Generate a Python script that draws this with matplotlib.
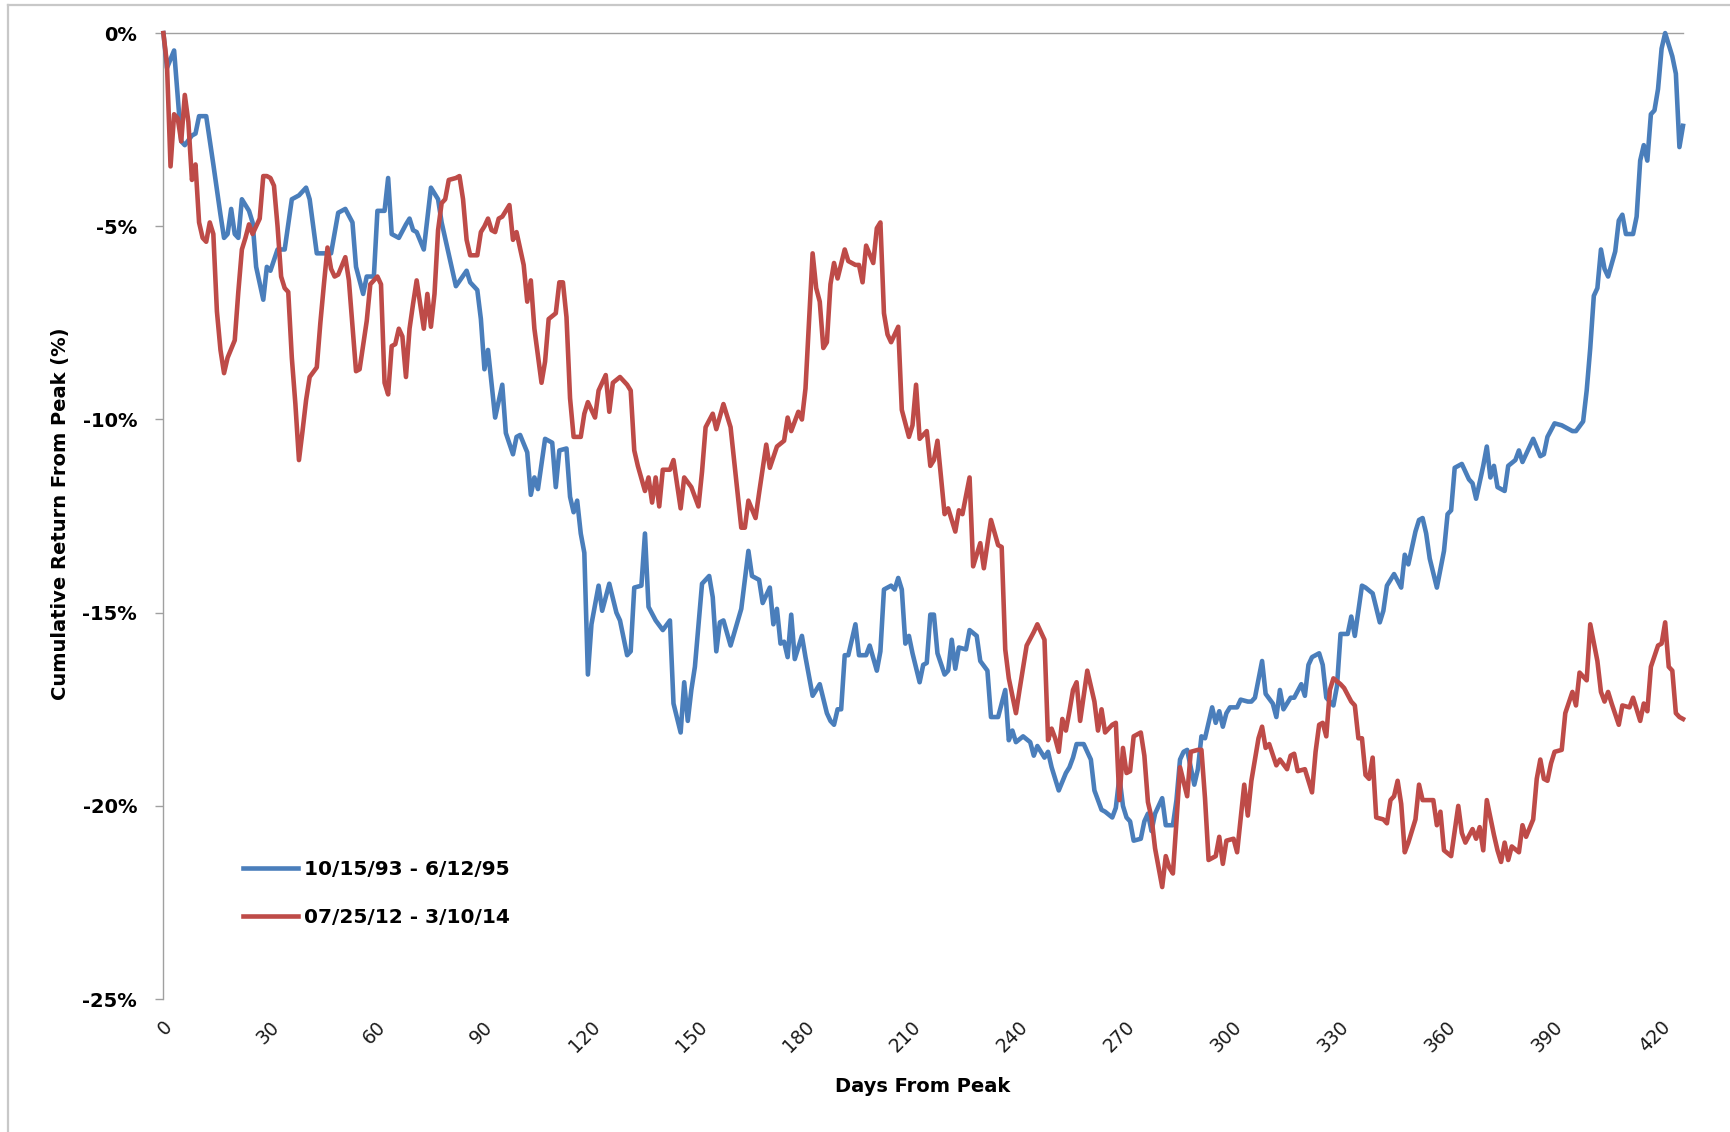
import matplotlib
matplotlib.use("Agg")
import matplotlib.pyplot as plt
from matplotlib.lines import Line2D
from matplotlib.ticker import FuncFormatter
from matplotlib.transforms import ScaledTranslation

# ---------------- data ----------------
series_labels = ["10/15/93 - 6/12/95", "07/25/12 - 3/10/14"]

blue_days = [
    0, 1, 3, 5, 6, 8, 9, 10, 12, 14,
    16, 17, 18, 19, 20, 21, 22, 24, 25, 26,
    28, 29, 30, 32, 34, 36, 38, 40, 41, 43,
    47, 49, 51, 53, 54, 56, 57, 59, 60, 62,
    63, 64, 66, 68, 69, 70, 71, 73, 75, 77,
    78, 82, 85, 86, 88, 89, 90, 91, 93, 95,
    96, 98, 99, 100, 102, 103, 104, 105, 107, 109,
    110, 111, 113, 114, 115, 116, 117, 118, 119, 120,
    122, 123, 125, 127, 128, 130, 131, 132, 134, 135,
    136, 138, 140, 142, 143, 145, 146, 147, 148, 149,
    151, 153, 154, 155, 156, 157, 159, 162, 164, 165,
    167, 168, 170, 171, 172, 173, 174, 175, 176, 177,
    179, 180, 182, 184, 186, 187, 188, 189, 190, 191,
    192, 194, 195, 197, 198, 200, 201, 202, 204, 205,
    206, 207, 208, 209, 210, 212, 213, 214, 215, 216,
    217, 219, 220, 221, 222, 223, 225, 226, 228, 229,
    231, 232, 234, 235, 236, 237, 238, 239, 241, 243,
    244, 245, 247, 248, 249, 251, 253, 254, 255, 256,
    258, 260, 261, 263, 264, 266, 267, 268, 269, 270,
    271, 272, 274, 275, 276, 277, 278, 280, 281, 283,
    284, 285, 286, 287, 289, 290, 291, 292, 294, 295,
    296, 297, 298, 299, 301, 302, 304, 305, 306, 308,
    309, 311, 312, 313, 314, 316, 317, 319, 320, 321,
    322, 324, 325, 326, 328, 329, 330, 332, 333, 334,
    336, 337, 339, 341, 342, 343, 345, 347, 348, 349,
    351, 352, 353, 354, 355, 357, 359, 360, 361, 362,
    364, 366, 367, 368, 370, 371, 372, 373, 374, 376,
    377, 379, 380, 381, 382, 384, 386, 387, 388, 390,
    392, 395, 396, 398, 399, 400, 401, 402, 403, 404,
    405, 407, 408, 409, 410, 412, 413, 414, 415, 416,
    417, 418, 419, 420, 421, 423, 424, 425, 426,
]
blue_vals = [
    0.0, -0.9, -0.45, -2.8, -2.9, -2.65, -2.6, -2.15, -2.15, -3.4,
    -4.7, -5.3, -5.2, -4.55, -5.2, -5.3, -4.3, -4.6, -4.9, -6.05,
    -6.9, -6.05, -6.15, -5.6, -5.6, -4.3, -4.2, -4.0, -4.3, -5.7,
    -5.7, -4.65, -4.55, -4.9, -6.05, -6.75, -6.3, -6.3, -4.6, -4.6,
    -3.75, -5.2, -5.3, -4.95, -4.8, -5.1, -5.15, -5.6, -4.0, -4.3,
    -4.9, -6.55, -6.15, -6.45, -6.65, -7.4, -8.7, -8.2, -9.95, -9.1,
    -10.35, -10.9, -10.45, -10.4, -10.85, -11.95, -11.5, -11.8, -10.5, -10.6,
    -11.75, -10.8, -10.75, -12.0, -12.4, -12.1, -12.95, -13.45, -16.6, -15.3,
    -14.3, -14.95, -14.25, -15.0, -15.2, -16.1, -16.0, -14.35, -14.3, -12.95,
    -14.85, -15.2, -15.45, -15.2, -17.35, -18.1, -16.8, -17.8, -17.0, -16.4,
    -14.25, -14.05, -14.6, -16.0, -15.25, -15.2, -15.85, -14.9, -13.4, -14.05,
    -14.15, -14.75, -14.35, -15.3, -14.9, -15.8, -15.75, -16.15, -15.05, -16.2,
    -15.6, -16.15, -17.15, -16.85, -17.6, -17.8, -17.9, -17.5, -17.5, -16.1,
    -16.1, -15.3, -16.1, -16.1, -15.85, -16.5, -16.0, -14.4, -14.3, -14.4,
    -14.1, -14.4, -15.8, -15.6, -16.05, -16.8, -16.35, -16.3, -15.05, -15.05,
    -16.05, -16.6, -16.5, -15.7, -16.45, -15.9, -15.95, -15.45, -15.6, -16.25,
    -16.5, -17.7, -17.7, -17.35, -17.0, -18.3, -18.05, -18.35, -18.2, -18.35,
    -18.7, -18.45, -18.75, -18.6, -19.0, -19.6, -19.15, -19.0, -18.75, -18.4,
    -18.4, -18.8, -19.6, -20.1, -20.15, -20.3, -20.05, -19.25, -20.0, -20.3,
    -20.4, -20.9, -20.85, -20.4, -20.2, -20.65, -20.2, -19.8, -20.5, -20.5,
    -19.85, -18.8, -18.6, -18.55, -19.45, -19.05, -18.2, -18.25, -17.45, -17.85,
    -17.55, -17.95, -17.6, -17.45, -17.45, -17.25, -17.3, -17.3, -17.2, -16.25,
    -17.1, -17.35, -17.7, -17.0, -17.5, -17.2, -17.2, -16.85, -17.15, -16.35,
    -16.15, -16.05, -16.35, -17.2, -17.4, -16.9, -15.55, -15.55, -15.1, -15.6,
    -14.3, -14.35, -14.5, -15.25, -14.95, -14.3, -14.0, -14.35, -13.5, -13.75,
    -12.9, -12.6, -12.55, -12.95, -13.6, -14.35, -13.4, -12.45, -12.35, -11.25,
    -11.15, -11.55, -11.65, -12.05, -11.2, -10.7, -11.5, -11.2, -11.75, -11.85,
    -11.2, -11.05, -10.8, -11.1, -10.9, -10.5, -10.95, -10.9, -10.45, -10.1,
    -10.15, -10.3, -10.3, -10.05, -9.25, -8.15, -6.8, -6.6, -5.6, -6.1,
    -6.3, -5.65, -4.85, -4.7, -5.2, -5.2, -4.75, -3.3, -2.9, -3.3,
    -2.1, -2.0, -1.45, -0.4, 0.0, -0.6, -1.05, -2.95, -2.4,
]

red_days = [
    0, 1, 2, 3, 4, 5, 6, 7, 8, 9,
    10, 11, 12, 13, 14, 15, 16, 17, 18, 20,
    21, 22, 23, 24, 25, 27, 28, 29, 30, 31,
    32, 33, 34, 35, 36, 37, 38, 39, 40, 41,
    43, 44, 45, 46, 47, 48, 49, 51, 52, 54,
    55, 57, 58, 60, 61, 62, 63, 64, 65, 66,
    67, 68, 69, 70, 71, 73, 74, 75, 76, 77,
    78, 79, 80, 82, 83, 84, 85, 86, 88, 89,
    90, 91, 92, 93, 94, 95, 97, 98, 99, 101,
    102, 103, 104, 106, 107, 108, 110, 111, 112, 113,
    114, 115, 117, 118, 119, 121, 122, 124, 125, 126,
    128, 130, 131, 132, 133, 135, 136, 137, 138, 139,
    140, 142, 143, 145, 146, 148, 150, 151, 152, 154,
    155, 157, 159, 162, 163, 164, 166, 167, 169, 170,
    172, 174, 175, 176, 178, 179, 180, 182, 183, 184,
    185, 186, 187, 188, 189, 191, 192, 194, 195, 196,
    197, 199, 200, 201, 202, 203, 204, 206, 207, 209,
    210, 211, 212, 214, 215, 216, 217, 219, 220, 222,
    223, 224, 226, 227, 229, 230, 232, 234, 235, 236,
    237, 239, 240, 242, 244, 245, 247, 248, 249, 250,
    251, 252, 253, 254, 255, 256, 257, 259, 261, 262,
    263, 264, 266, 267, 268, 269, 270, 271, 272, 274,
    275, 276, 277, 278, 280, 281, 282, 283, 284, 285,
    287, 288, 290, 291, 292, 293, 295, 296, 297, 298,
    300, 301, 303, 304, 305, 307, 308, 309, 310, 312,
    313, 315, 316, 317, 318, 320, 322, 323, 324, 325,
    326, 327, 328, 330, 331, 333, 334, 335, 336, 337,
    338, 339, 340, 342, 343, 344, 345, 346, 347, 348,
    349, 351, 352, 353, 356, 357, 358, 359, 361, 363,
    364, 365, 367, 368, 369, 370, 371, 373, 374, 375,
    376, 377, 378, 380, 381, 382, 384, 385, 386, 387,
    388, 389, 390, 392, 393, 395, 396, 397, 399, 400,
    402, 403, 404, 405, 406, 408, 409, 411, 412, 414,
    415, 416, 417, 419, 420, 421, 422, 423, 424, 425,
    426,
]
red_vals = [
    0.0, -0.8, -3.45, -2.1, -2.2, -2.8, -1.6, -2.3, -3.8, -3.4,
    -4.9, -5.3, -5.4, -4.9, -5.2, -7.2, -8.2, -8.8, -8.4, -7.95,
    -6.7, -5.6, -5.3, -4.95, -5.2, -4.8, -3.7, -3.7, -3.75, -3.95,
    -5.0, -6.3, -6.6, -6.7, -8.4, -9.6, -11.05, -10.3, -9.5, -8.9,
    -8.65, -7.5, -6.5, -5.55, -6.1, -6.3, -6.25, -5.8, -6.4, -8.75,
    -8.7, -7.45, -6.5, -6.3, -6.5, -9.05, -9.35, -8.1, -8.05, -7.65,
    -7.85, -8.9, -7.65, -7.0, -6.4, -7.65, -6.75, -7.6, -6.75, -5.1,
    -4.4, -4.3, -3.8, -3.75, -3.7, -4.3, -5.35, -5.75, -5.75, -5.15,
    -5.0, -4.8, -5.1, -5.15, -4.8, -4.75, -4.45, -5.35, -5.15, -6.0,
    -6.95, -6.4, -7.65, -9.05, -8.5, -7.4, -7.25, -6.45, -6.45, -7.35,
    -9.45, -10.45, -10.45, -9.85, -9.55, -9.95, -9.25, -8.85, -9.8, -9.05,
    -8.9, -9.1, -9.25, -10.8, -11.2, -11.85, -11.5, -12.15, -11.5, -12.25,
    -11.3, -11.3, -11.05, -12.3, -11.5, -11.75, -12.25, -11.35, -10.2, -9.85,
    -10.25, -9.6, -10.2, -12.8, -12.8, -12.1, -12.55, -11.9, -10.65, -11.25,
    -10.7, -10.55, -9.95, -10.3, -9.8, -10.0, -9.2, -5.7, -6.6, -6.95,
    -8.15, -8.0, -6.5, -5.95, -6.35, -5.6, -5.9, -6.0, -6.0, -6.45,
    -5.5, -5.95, -5.05, -4.9, -7.25, -7.8, -8.0, -7.6, -9.75, -10.45,
    -10.15, -9.1, -10.5, -10.3, -11.2, -11.05, -10.55, -12.45, -12.3, -12.9,
    -12.35, -12.45, -11.5, -13.8, -13.2, -13.85, -12.6, -13.25, -13.3, -15.95,
    -16.7, -17.6, -17.0, -15.85, -15.5, -15.3, -15.7, -18.3, -18.0, -18.25,
    -18.6, -17.75, -18.05, -17.55, -17.0, -16.8, -17.8, -16.5, -17.3, -18.05,
    -17.5, -18.1, -17.9, -17.85, -19.85, -18.5, -19.15, -19.1, -18.2, -18.1,
    -18.7, -19.9, -20.3, -21.1, -22.1, -21.3, -21.6, -21.75, -20.4, -19.0,
    -19.75, -18.6, -18.55, -18.55, -19.8, -21.4, -21.3, -20.8, -21.5, -20.9,
    -20.85, -21.2, -19.45, -20.25, -19.35, -18.25, -17.95, -18.5, -18.4, -18.95,
    -18.8, -19.05, -18.7, -18.65, -19.1, -19.05, -19.65, -18.6, -17.9, -17.85,
    -18.2, -17.0, -16.7, -16.85, -16.95, -17.3, -17.4, -18.25, -18.25, -19.2,
    -19.3, -18.75, -20.3, -20.35, -20.45, -19.85, -19.75, -19.35, -19.95, -21.2,
    -20.95, -20.35, -19.45, -19.85, -19.85, -20.5, -20.15, -21.15, -21.3, -20.0,
    -20.7, -20.95, -20.6, -20.85, -20.55, -21.15, -19.85, -20.75, -21.15, -21.45,
    -20.95, -21.4, -21.05, -21.2, -20.5, -20.8, -20.35, -19.3, -18.8, -19.3,
    -19.35, -18.9, -18.6, -18.55, -17.6, -17.05, -17.4, -16.55, -16.75, -15.3,
    -16.25, -17.05, -17.3, -17.05, -17.35, -17.9, -17.4, -17.45, -17.2, -17.8,
    -17.35, -17.55, -16.4, -15.85, -15.8, -15.25, -16.4, -16.5, -17.6, -17.7,
    -17.75,
]

x_ticks = list(range(0, 421, 30))
y_ticks = [0, -5, -10, -15, -20, -25]

# ---------------- figure ----------------
W, H = 1731, 1132
fig = plt.figure(figsize=(W / 100, H / 100), dpi=100)
fig.patch.set_facecolor("white")

L, R, T, B = 163.4, 1683.0, 33.1, 999.1
ax = fig.add_axes([L / W, 1 - B / H, (R - L) / W, (B - T) / H])

BLUE = "#4A7EBB"
RED = "#BE4B48"
GRID = "#A0A0A0"

ax.plot(blue_days, blue_vals, color=BLUE, lw=3.3, solid_joinstyle="round",
        clip_on=False, zorder=3, label=series_labels[0])
ax.plot(red_days, red_vals, color=RED, lw=3.3, solid_joinstyle="round",
        clip_on=False, zorder=4, label=series_labels[1])

ax.set_xlim(0, 426)
ax.set_ylim(-25, 0)

for s in ("right", "bottom"):
    ax.spines[s].set_visible(False)
ax.spines["left"].set_color(GRID)
ax.spines["top"].set_color(GRID)
ax.spines["left"].set_linewidth(1.0)
ax.spines["top"].set_linewidth(1.0)

ax.set_yticks(y_ticks)
ax.yaxis.set_major_formatter(FuncFormatter(lambda v, p: f"{int(round(v))}%"))
ax.tick_params(axis="y", direction="out", length=6, width=1.0, color=GRID,
               pad=13, labelsize=14, labelcolor="black")
for t in ax.get_yticklabels():
    t.set_fontweight("bold")

ax.set_xticks(x_ticks)
ax.set_xticklabels([str(v) for v in x_ticks], rotation=45, ha="right",
                   va="center", rotation_mode="anchor")
ax.tick_params(axis="x", bottom=True, top=False, length=0, pad=18,
               labelsize=13.5, labelcolor="#1a1a1a")
shift = ScaledTranslation(4 / 72, 0, fig.dpi_scale_trans)
for t in ax.get_xticklabels():
    t.set_transform(t.get_transform() + shift)

fig.text(61 / W, 1 - 514 / H, "Cumulative Return From Peak (%)", rotation=90,
         ha="center", va="center", fontsize=14, fontweight="bold")
fig.text(923 / W, 1 - 1087 / H, "Days From Peak", ha="center", va="center",
         fontsize=14, fontweight="bold")

leg = ax.legend(loc="upper left", bbox_to_anchor=(243 / W, 1 - 860 / H),
                bbox_transform=fig.transFigure, frameon=False,
                handlelength=2.75, handletextpad=0.3, labelspacing=1.42,
                borderpad=0, borderaxespad=0,
                prop={"size": 14.5, "weight": "bold"})

# chart-area border (top and left visible)
fig.add_artist(Line2D([8 / W, 1.0], [1 - 5 / H, 1 - 5 / H],
                      transform=fig.transFigure, color="#C8C8C8", lw=1.6))
fig.add_artist(Line2D([8 / W, 8 / W], [0.0, 1 - 5 / H],
                      transform=fig.transFigure, color="#C8C8C8", lw=1.6))

fig.savefig("out.png", dpi=100, facecolor="white")
